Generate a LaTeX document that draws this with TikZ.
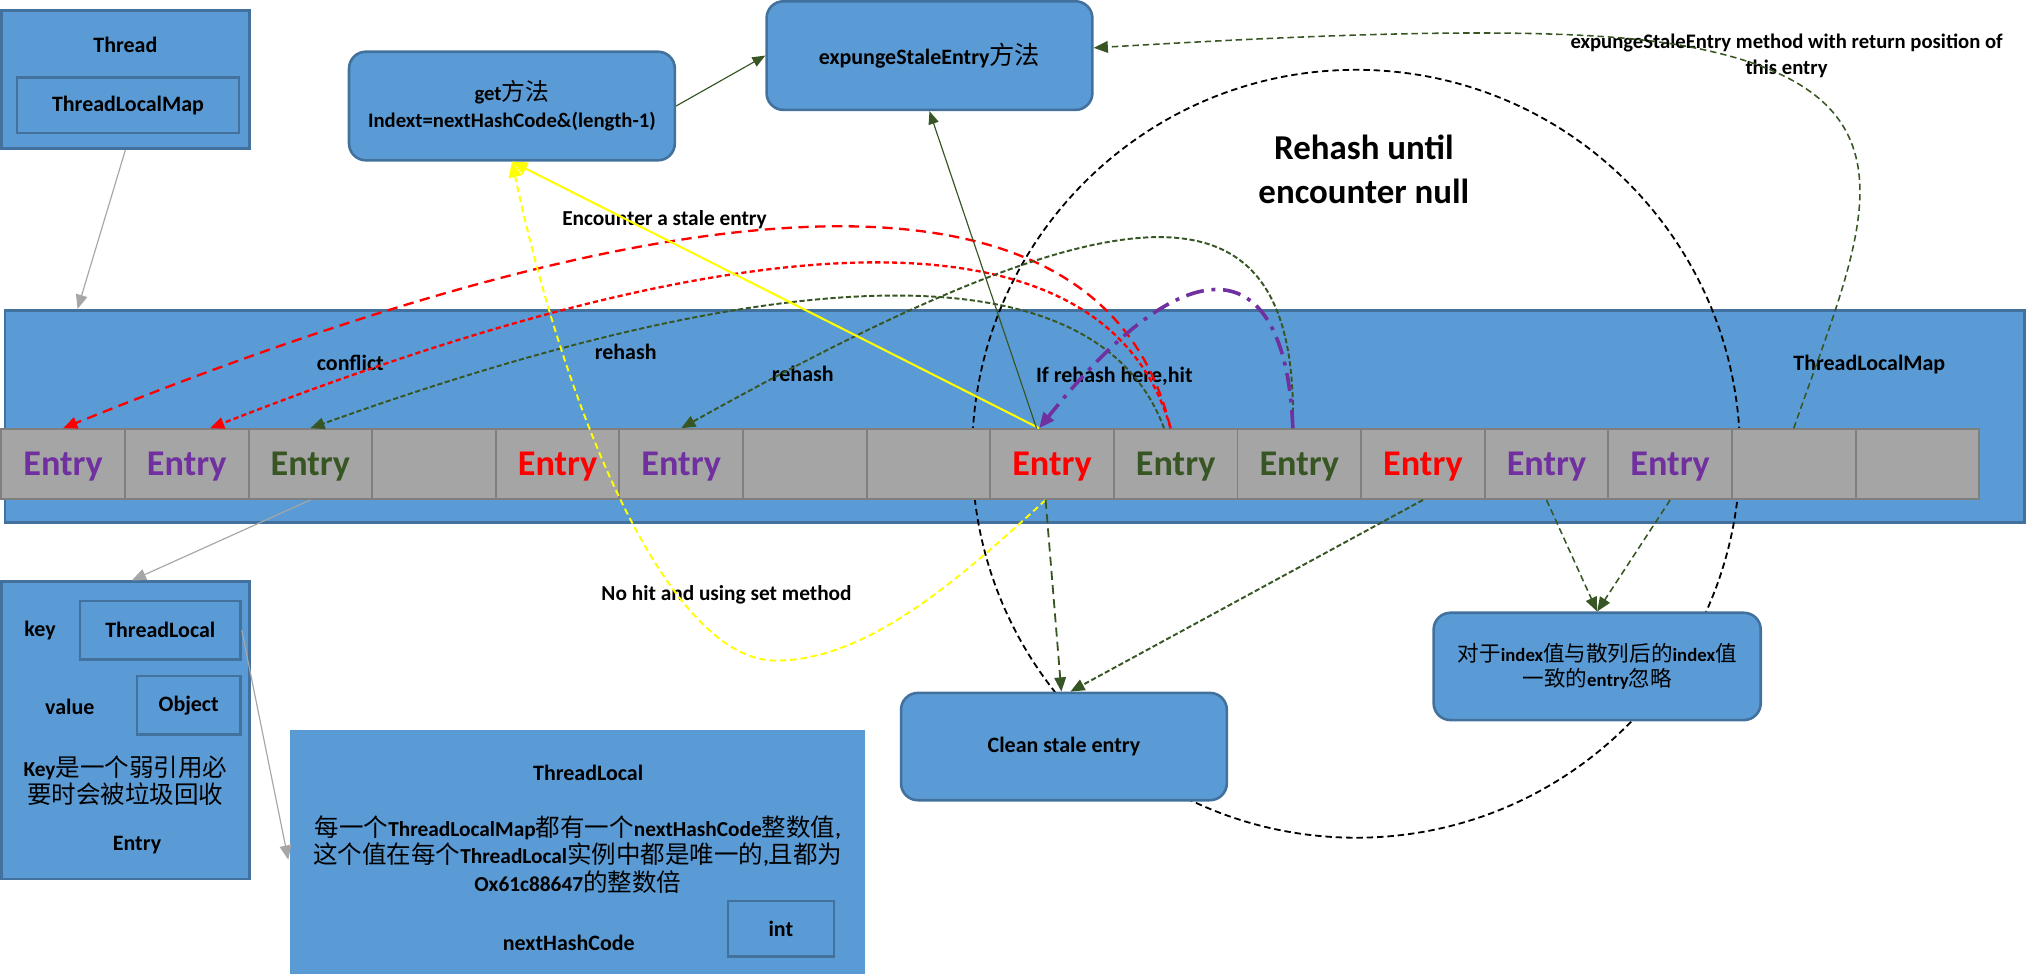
\documentclass[tikz,border=0pt]{standalone}
\usepackage{fontspec}
\setmainfont{Carlito}
\newfontfamily\cjkfont{Noto Sans CJK SC}[Scale=1.15]
\newcommand\zhtxt[1]{{\cjkfont\mdseries #1}}
\usetikzlibrary{arrows.meta}
\definecolor{boxfill}{HTML}{5B9BD5}
\definecolor{boxline}{HTML}{41719C}
\definecolor{cellfill}{HTML}{A5A5A5}
\definecolor{cellline}{HTML}{7F7F7F}
\definecolor{epurple}{HTML}{7030A0}
\definecolor{egreen}{HTML}{375623}
\definecolor{ered}{HTML}{FF0000}
\definecolor{eyellow}{HTML}{FFFF00}
\definecolor{arrgray}{HTML}{A6A6A6}
\tikzset{
  bluebox/.style={draw=boxline, fill=boxfill, line width=2pt, inner sep=0pt, align=center,
    font=\fontsize{17}{21}\selectfont\bfseries},
  roundbox/.style={bluebox, rounded corners=13pt},
  cellbox/.style={draw=cellline, fill=cellfill, line width=1.5pt, minimum width=95.625pt,
    minimum height=54pt, inner sep=0pt, text depth=0pt, font=\fontsize{28}{30}\selectfont\bfseries},
  lbl/.style={font=\fontsize{17}{20}\selectfont\bfseries, align=center, inner sep=1pt},
  bigtitle/.style={font=\fontsize{27}{34}\selectfont\bfseries, align=center},
  grayarrow/.style={draw=arrgray, line width=0.9pt, -{Triangle[length=11pt,width=9pt]}},
  thingreen/.style={draw=egreen, line width=0.9pt, -{Triangle[length=10pt,width=8pt]}},
  redlong/.style={draw=ered, line width=1.8pt, dash pattern=on 8pt off 5pt, -{Triangle[length=11pt,width=9pt]}},
  redshort/.style={draw=ered, line width=1.8pt, dash pattern=on 4pt off 2.5pt, -{Triangle[length=11pt,width=9pt]}},
  greendash/.style={draw=egreen, line width=1.5pt, dash pattern=on 4pt off 2pt, -{Triangle[length=11pt,width=9pt]}},
  greenlong/.style={draw=egreen, line width=1.4pt, dash pattern=on 7pt off 4pt, -{Triangle[length=11pt,width=9pt]}},
  greenthin/.style={draw=egreen, line width=1.2pt, dash pattern=on 5pt off 3pt, -{Triangle[length=11pt,width=9pt]}},
  purpledd/.style={draw=epurple, line width=2.8pt, dash pattern=on 14pt off 6pt on 3pt off 6pt, -{Triangle[length=12pt,width=10pt]}},
  yellowline/.style={draw=eyellow, line width=1.6pt, -{Triangle[length=12pt,width=10pt]}},
  yellowdash/.style={draw=eyellow, line width=1.5pt, dash pattern=on 5pt off 3pt, -{Triangle[length=12pt,width=10pt]}},
  circdash/.style={draw=black, line width=1.4pt, dash pattern=on 5pt off 3pt},
}
\begin{document}
\begin{tikzpicture}[x=1pt, y=-1pt]
\useasboundingbox (0,0) rectangle (1568,753);

% ThreadLocalMap band
\node[bluebox, minimum width=1562pt, minimum height=164pt] (band) at (785,322) {};
\node[lbl] (bandlbl) at (1446,282) {ThreadLocalMap};

% rehash circle
\node[circle, circdash, minimum size=594pt, inner sep=0pt] (rehashcircle) at (1049,351) {};
\node[bigtitle] (rehashtxt) at (1055,131) {Rehash until\\encounter null};

% entry cells
\foreach \i/\t/\c in {1/Entry/epurple,2/Entry/epurple,3/Entry/egreen,4/{}/black,
  5/Entry/ered,6/Entry/epurple,7/{}/black,8/{}/black,9/Entry/ered,10/Entry/egreen,
  11/Entry/egreen,12/Entry/ered,13/Entry/epurple,14/Entry/epurple,15/{}/black,16/{}/black}
  \node[cellbox, text=\c] (c\i) at ({1+(\i-0.5)*95.625},359) {\t};

% Thread box
\node[bluebox, minimum width=192pt, minimum height=107pt] (thread) at (97,61.5) {};
\node[lbl] (threadtxt) at (97,35) {Thread};
\node[bluebox, minimum width=172pt, minimum height=43pt] (tlminner) at (99,81.5) {ThreadLocalMap};

% get / expunge boxes
\node[roundbox, minimum width=252pt, minimum height=84pt, font=\fontsize{16}{21}\selectfont\bfseries] (getbox) at (396,82)
  {get\zhtxt{方法}\\Indext=nextHashCode\&(length-1)};
\node[roundbox, minimum width=252pt, minimum height=84pt] (expbox) at (719,43)
  {expungeStaleEntry\zhtxt{方法}};

% Entry box
\node[bluebox, minimum width=192pt, minimum height=230pt] (entrybox) at (97,565) {};
\node[lbl] (keytxt) at (31,488) {key};
\node[bluebox, minimum width=124pt, minimum height=45pt] (keytl) at (124,487.5) {ThreadLocal};
\node[lbl] (valuetxt) at (54,547) {value};
\node[bluebox, minimum width=80pt, minimum height=45pt] (objbox) at (146,545.5) {Object};
\node[lbl, font=\fontsize{16.5}{21}\selectfont\bfseries] (weaktxt) at (97,604)
  {Key\zhtxt{是一个弱引用必}\\\zhtxt{要时会被垃圾回收}};
\node[lbl] (entrytxt) at (106,654) {Entry};

% ThreadLocal box
\node[bluebox, draw=none, minimum width=445pt, minimum height=200pt] (tlbox) at (446.5,665) {};
\node[lbl] (tltitle) at (455,598) {ThreadLocal};
\node[lbl, font=\fontsize{16.5}{21}\selectfont\bfseries] (tldesc) at (447,661)
  {\zhtxt{每一个}ThreadLocalMap\zhtxt{都有一个}nextHashCode\zhtxt{整数值},\\
   \zhtxt{这个值在每个}ThreadLocal\zhtxt{实例中都是唯一的},\zhtxt{且都为}\\
   Ox61c88647\zhtxt{的整数倍}};
\node[lbl] (nhctxt) at (440,729) {nextHashCode};
\node[bluebox, minimum width=82pt, minimum height=43pt] (intbox) at (604,718.5) {int};

% Clean / index boxes
\node[roundbox, minimum width=252pt, minimum height=83pt] (clean) at (823,577.5) {Clean stale entry};
\node[roundbox, minimum width=253pt, minimum height=83pt, font=\fontsize{14.5}{20}\selectfont\bfseries] (idx) at (1235.5,515.5)
  {\zhtxt{对于}index\zhtxt{值与散列后的}index\zhtxt{值}\\\zhtxt{一致的}entry\zhtxt{忽略}};

% labels
\node[lbl] (conflicttxt) at (271,281) {conflict};
\node[lbl] (rehash1) at (484,272) {rehash};
\node[lbl] (rehash2) at (621,289) {rehash};
\node[lbl] (hittxt) at (862,291) {If rehash here,hit};
\node[lbl, font=\fontsize{16.5}{20}\selectfont\bfseries] (staletxt) at (514,170) {Encounter a stale entry};
\node[lbl, font=\fontsize{16.5}{20}\selectfont\bfseries] (nohittxt) at (562,460) {No hit and using set method};
\node[lbl, font=\fontsize{16}{20}\selectfont\bfseries] (exptxt) at (1382,43)
  {expungeStaleEntry method with return position of\\this entry};

% gray structural arrows
\draw[grayarrow] (thread.south) -- ([xshift=-725pt]band.north);
\draw[grayarrow] (c3.south) -- ([xshift=5pt]entrybox.north);
\draw[grayarrow] (keytl.east) -- (tlbox.west);

% conflict (red)
\draw[redlong] ([xshift=-4pt]c10.north) .. controls (860,140) and (600,108) .. (c1.north);
\draw[redshort] ([xshift=-4pt]c10.north) .. controls (860,170) and (620,152) .. ([xshift=18pt]c2.north);

% rehash (green)
\draw[greendash] ([xshift=-9pt]c10.north) .. controls (850,195) and (620,195) .. (c3.north);
\draw[greendash] ([xshift=-5pt]c11.north) .. controls (1005,130) and (870,140) .. (c6.north);

% hit (purple)
\draw[purpledd] ([xshift=-5pt]c11.north) .. controls (995,200) and (925,180) .. ([xshift=-10pt]c9.north);

% yellow
\draw[yellowline] ([xshift=-10pt]c9.north) -- (getbox.south);
\draw[yellowdash] ([xshift=-5pt]c9.south) .. controls (740,450) and (670,511) .. (600,511)
  .. controls (520,511) and (440,330) .. (getbox.south);

% thin green solid
\draw[thingreen] (getbox.east) -- (expbox.west);
\draw[thingreen] ([xshift=-12pt]c9.north) -- (expbox.south);

% expunge return
\draw[greenthin] (c15.north) .. controls (1440,180) and (1500,70) .. (1300,35)
  .. controls (1200,17.5) and (1000,28) .. ([yshift=6pt]expbox.east);

% to clean / index boxes
\draw[greenlong] ([xshift=-5pt]c9.south) -- ([xshift=-2pt]clean.north);
\draw[greendash] (c12.south) -- ([xshift=5pt]clean.north);
\draw[greenthin] (c13.south) -- (idx.north);
\draw[greenthin] (c14.south) -- (idx.north);
\end{tikzpicture}
\end{document}
